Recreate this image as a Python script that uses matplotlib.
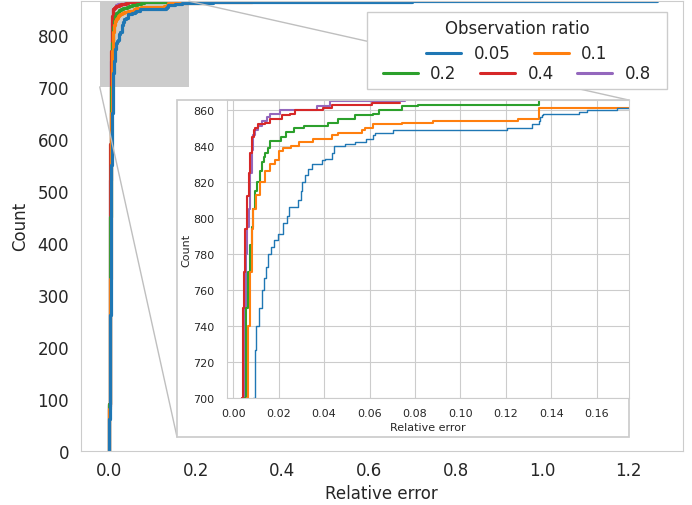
import matplotlib
matplotlib.use('Agg')
import matplotlib.pyplot as plt
import seaborn as sns
from matplotlib.patches import Rectangle, ConnectionPatch
from matplotlib.lines import Line2D
from matplotlib.offsetbox import AnchoredOffsetbox, DrawingArea, HPacker, VPacker, TextArea

sns.set_style('whitegrid')
plt.rcParams['font.family'] = ['DejaVu Sans']

# observation ratios and their colours
ratios = ['0.05', '0.1', '0.2', '0.4', '0.8']
colors = ['#1f77b4', '#ff7f0e', '#2ca02c', '#d62728', '#9467bd']

# cumulative count of relative errors (step points)
err_005 = [0.0, 0.0005, 0.001, 0.0015, 0.002, 0.003, 0.004, 0.005, 0.006, 0.007, 0.008,
           0.0089, 0.0097, 0.0102, 0.0113, 0.0126, 0.0135,
           0.0144, 0.0154, 0.0167, 0.018, 0.0198, 0.0221, 0.0235, 0.0245, 0.0287, 0.0297,
           0.0302, 0.0317, 0.033, 0.0346, 0.039, 0.0404, 0.0435, 0.0443, 0.049, 0.0535,
           0.0585, 0.0615, 0.0625, 0.0705, 0.1203, 0.1313, 0.1345, 0.1352, 0.136, 0.1364,
           0.152, 0.1555, 0.169, 0.19, 0.24, 0.33, 0.70, 1.265]
cnt_005 = [0, 60, 120, 190, 260, 380, 470, 550, 610, 650, 680,
           700, 727, 740, 750, 760, 767,
           773, 780, 784, 788, 791, 797, 801, 806, 810, 815,
           820, 824, 827, 830, 832, 833, 836, 840, 841, 842,
           844, 846, 847, 849, 850, 852, 854, 856, 857, 858,
           859, 860, 861, 862, 863, 864, 865, 865]

err_01 = [0.0, 0.0005, 0.001, 0.0015, 0.002, 0.003, 0.004, 0.0045, 0.005, 0.0055,
          0.0059, 0.0066, 0.0073, 0.0082, 0.0088, 0.0101,
          0.0119, 0.0141, 0.0163, 0.0185, 0.02, 0.0221, 0.0255, 0.029, 0.0349, 0.0435,
          0.0462, 0.0565, 0.058, 0.0615, 0.0743, 0.088, 0.1255, 0.1345, 0.1347, 0.19,
          0.22, 0.27, 0.33]
cnt_01 = [0, 80, 160, 250, 330, 460, 570, 610, 650, 680,
          700, 740, 770, 794, 805, 813,
          820, 826, 830, 832, 837, 839, 840, 842, 844, 846,
          847, 849, 850, 852, 853, 854, 855, 858, 861, 862,
          863, 864, 865]

err_02 = [0.0, 0.0005, 0.001, 0.0015, 0.002, 0.0025, 0.003, 0.0035, 0.004, 0.0045,
          0.005, 0.0057, 0.0063, 0.0072, 0.0082, 0.0089,
          0.0097, 0.0105, 0.0116, 0.0126, 0.0135, 0.014, 0.0152, 0.0163, 0.021, 0.0233,
          0.0268, 0.0312, 0.0418, 0.046, 0.0535, 0.0615, 0.064, 0.0745, 0.0813, 0.1346]
cnt_02 = [0, 90, 180, 280, 370, 450, 530, 590, 640, 675,
          700, 750, 770, 785, 795, 805,
          815, 820, 826, 831, 834, 836, 839, 843, 845, 848,
          850, 851, 853, 855, 857, 858, 860, 862, 863, 865]

err_04 = [0.0, 0.0004, 0.0008, 0.0012, 0.0016, 0.002, 0.0024, 0.0028, 0.0032, 0.0035,
          0.0038, 0.0044, 0.0048, 0.0053, 0.006, 0.0068,
          0.0075, 0.0082, 0.009, 0.0097, 0.0111, 0.014, 0.016, 0.0214, 0.025, 0.027,
          0.0395, 0.0435, 0.061, 0.0734]
cnt_04 = [0, 90, 180, 270, 360, 440, 520, 590, 640, 675,
          700, 750, 770, 794, 812, 825,
          836, 845, 849, 850, 852, 853, 855, 857, 858, 860,
          861, 863, 864, 864]

err_08 = [0.0, 0.0004, 0.0008, 0.0013, 0.0018, 0.0022, 0.0026, 0.003, 0.0034, 0.0037,
          0.004, 0.005, 0.0056, 0.0062, 0.0069, 0.0075,
          0.0082, 0.0087, 0.0097, 0.0111, 0.0126, 0.0148, 0.0163, 0.0207, 0.0368, 0.0426,
          0.0756]
cnt_08 = [0, 85, 170, 270, 360, 440, 520, 590, 640, 675,
          700, 750, 780, 795, 805, 825,
          838, 846, 849, 851, 854, 856, 858, 860, 862, 865,
          865]

errors = [err_005, err_01, err_02, err_04, err_08]
counts = [cnt_005, cnt_01, cnt_02, cnt_04, cnt_08]

zoom_x = (-0.022, 0.184)
zoom_y = (700, 865)

fig = plt.figure(figsize=(6.92, 5.06), dpi=100)
ax = fig.add_axes([0.1166, 0.1077, 0.870, 0.888])

ax.add_patch(Rectangle((zoom_x[0], zoom_y[0]), zoom_x[1] - zoom_x[0], zoom_y[1] - zoom_y[0],
                       facecolor='0.8', edgecolor='none', zorder=1))

# reverse order so the 0.05 curve sits on top
for i in reversed(range(len(ratios))):
    ax.plot(errors[i], counts[i], drawstyle='steps-post', color=colors[i], lw=2.3, zorder=2)

ax.set_xlim(-0.066, 1.325)
ax.set_ylim(0, 865)
ax.set_xticks([0.0, 0.2, 0.4, 0.6, 0.8, 1.0, 1.2])
ax.set_yticks(range(0, 900, 100))
ax.grid(False)
ax.tick_params(labelsize=12, colors='.15')
ax.tick_params(axis='x', pad=4)
ax.tick_params(axis='y', pad=5)
ax.set_xlabel('Relative error', fontsize=12, color='.15')
ax.set_ylabel('Count', fontsize=12, color='.15', labelpad=6)

# frame behind the inset and connector lines
frame = [0.2558, 0.1344, 0.9083, 0.8004]
ax.add_patch(Rectangle((frame[0], frame[1]), frame[2] - frame[0], frame[3] - frame[1],
                       transform=fig.transFigure, facecolor='white', edgecolor='0.8',
                       lw=1.25, clip_on=False, zorder=4))
for xa, ya, xb, yb in [(zoom_x[1], zoom_y[1], frame[2], frame[3]),
                       (zoom_x[0], zoom_y[0], frame[0], frame[1])]:
    con = ConnectionPatch(xyA=(xa, ya), coordsA=ax.transData, xyB=(xb, yb),
                          coordsB=fig.transFigure, color='0.75', lw=1)
    con.set_zorder(3)
    con.set_clip_on(False)
    ax.add_artist(con)

# legend: title, then two centred rows
def entry(label, color):
    da = DrawingArea(25, 8, 0, 0)
    da.add_artist(Line2D([0, 25], [4, 4], color=color, lw=2.2))
    txt = TextArea(label, textprops=dict(size=12, color='.15'))
    return HPacker(children=[da, txt], align='center', pad=0, sep=9)

row1 = HPacker(children=[entry(ratios[k], colors[k]) for k in (0, 1)], align='center', pad=0, sep=17)
row2 = HPacker(children=[entry(ratios[k], colors[k]) for k in (2, 3, 4)], align='center', pad=0, sep=17)
row2 = HPacker(children=[DrawingArea(6.5, 1), row2, DrawingArea(6.5, 1)], align='center', pad=0, sep=0)
title = TextArea('Observation ratio', textprops=dict(size=12, color='.15'))
rows = VPacker(children=[row1, row2], align='center', pad=0, sep=1.5)
box = VPacker(children=[title, rows], align='center', pad=5, sep=4.5)
leg = AnchoredOffsetbox(loc='upper right', child=box, pad=0, borderpad=0, frameon=True,
                        bbox_to_anchor=(0.9734, 0.975), bbox_transform=ax.transAxes)
leg.patch.set_boxstyle('square', pad=0)
leg.patch.set_edgecolor('0.8')
leg.patch.set_facecolor('white')
leg.patch.set_linewidth(1)
leg.set_zorder(5)
ax.add_artist(leg)

# zoomed inset
axin = fig.add_axes([0.3285, 0.2109, 0.5798, 0.5895])
for i in reversed(range(len(ratios))):
    axin.plot(errors[i], counts[i], drawstyle='steps-post', color=colors[i],
              lw=1.0 if i == 0 else 1.5)
axin.set_xlim(-0.0026, 0.174)
axin.set_ylim(700, 865.5)
axin.set_xticks([0.00, 0.02, 0.04, 0.06, 0.08, 0.10, 0.12, 0.14, 0.16])
axin.set_yticks(range(700, 861, 20))
axin.tick_params(labelsize=8, colors='.15')
axin.tick_params(axis='x', pad=3.5)
axin.tick_params(axis='y', pad=6)
axin.set_xlabel('Relative error', fontsize=8, color='.15', labelpad=3)
axin.set_ylabel('Count', fontsize=8, color='.15', labelpad=1)

fig.savefig('out.png', dpi=100)
